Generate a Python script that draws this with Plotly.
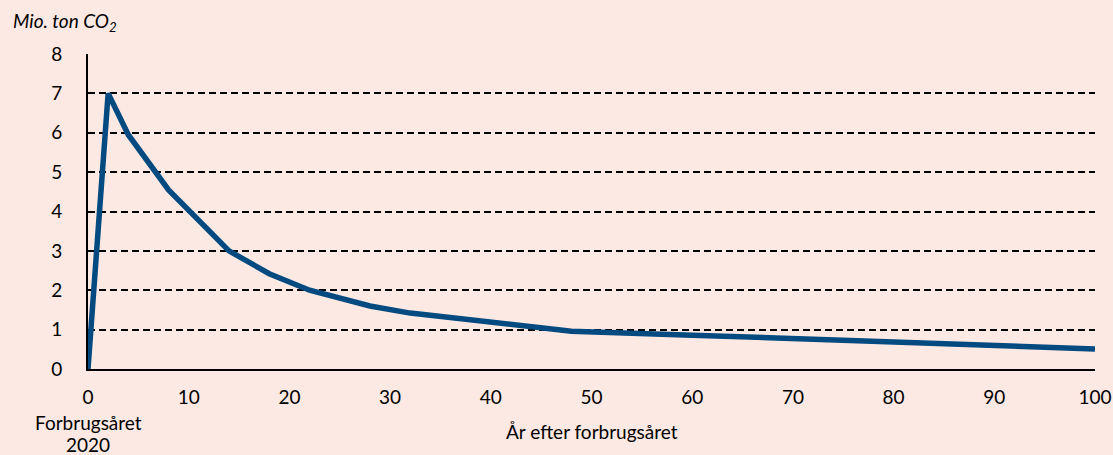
import plotly.graph_objects as go

years = [0, 2, 4, 8, 14, 18, 22, 28, 32, 48, 60, 70, 80, 90, 100]
emissions = [0, 7.0, 5.95, 4.55, 3.0, 2.42, 2.0, 1.6, 1.42, 0.96, 0.86, 0.77, 0.68, 0.6, 0.51]
x_ticks = [0, 10, 20, 30, 40, 50, 60, 70, 80, 90, 100]
y_ticks = [0, 1, 2, 3, 4, 5, 6, 7, 8]

bg = "#FCE9E3"
font = "Lato, 'Liberation Sans', sans-serif"

fig = go.Figure()
fig.add_trace(go.Scatter(x=years, y=emissions, mode="lines",
                         line=dict(color="#034A80", width=5.5), hoverinfo="x+y"))

fig.update_layout(
    width=1113, height=455,
    paper_bgcolor=bg, plot_bgcolor=bg,
    margin=dict(l=88, r=18, t=54, b=86, autoexpand=False),
    showlegend=False,
    font=dict(family=font, size=19, color="#000000"),
    xaxis=dict(range=[0, 100], tickvals=x_ticks, showgrid=False, zeroline=False,
               showline=True, linecolor="black", linewidth=2, ticks="",
               ticklabelstandoff=10, tickfont=dict(size=19), fixedrange=True),
    yaxis=dict(range=[0, 8], tickvals=y_ticks, showgrid=True, gridcolor="black",
               griddash="7px,4px", gridwidth=2, zeroline=False,
               showline=True, linecolor="black", linewidth=2, ticks="",
               ticklabelstandoff=20, tickfont=dict(size=19), fixedrange=True),
    annotations=[
        dict(text="<i>Mio. ton CO<sub>2</sub></i>", xref="paper", yref="paper",
             x=-77/1007, y=1, yshift=32, xanchor="left", yanchor="middle",
             showarrow=False, font=dict(size=19)),
        dict(text="År efter forbrugsåret", xref="paper", yref="paper",
             x=0.5, y=0, yshift=-62, xanchor="center", yanchor="middle",
             showarrow=False, font=dict(size=19)),
        dict(text="Forbrugsåret", xref="x", yref="paper",
             x=0, y=0, yshift=-53, xanchor="center", yanchor="middle",
             showarrow=False, font=dict(size=19)),
        dict(text="2020", xref="x", yref="paper",
             x=0, y=0, yshift=-75, xanchor="center", yanchor="middle",
             showarrow=False, font=dict(size=19)),
    ],
)

fig.write_html("out.html", config={"displayModeBar": False},
               post_script="document.body.style.margin='0';document.body.style.overflow='hidden';")
